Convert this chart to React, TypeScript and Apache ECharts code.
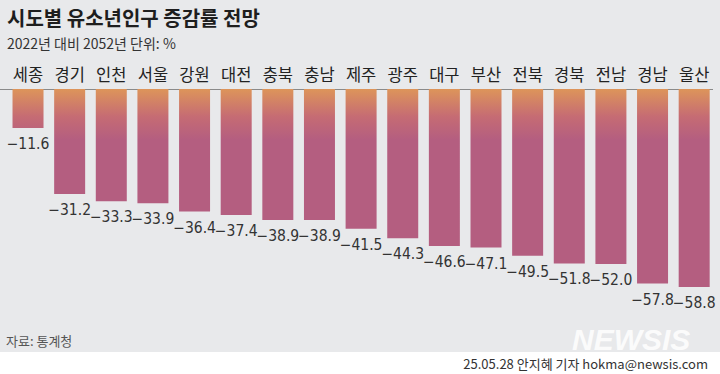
import React, { useEffect, useRef } from "react";
import * as echarts from "echarts";

const categories = ["세종", "경기", "인천", "서울", "강원", "대전", "충북", "충남", "제주", "광주", "대구", "부산", "전북", "경북", "전남", "경남", "울산"];
const values = [-11.6, -31.2, -33.3, -33.9, -36.4, -37.4, -38.9, -38.9, -41.5, -44.3, -46.6, -47.1, -49.5, -51.8, -52.0, -57.8, -58.8];

const title = "시도별 유소년인구 증감률 전망";
const subtitle = "2022년 대비 2052년 단위: %";
const source = "자료: 통계청";
const credit = "25.05.28 안지혜 기자 hokma@newsis.com";

const KR = '"Noto Sans CJK KR", "Noto Sans", sans-serif';

export default function App() {
  const ref = useRef<HTMLDivElement>(null);
  useEffect(() => {
    document.body.style.margin = "0";
    const chart = echarts.init(ref.current!, null, { renderer: "svg" });
    const grad = new echarts.graphic.LinearGradient(0, 89, 0, 140, [
      { offset: 0, color: "#dd955a" },
      { offset: 0.55, color: "#c56b74" },
      { offset: 1, color: "#b45e80" },
    ], true);
    chart.setOption({
      animation: false,
      backgroundColor: "#ffffff",
      graphic: [
        { type: "rect", z: -10, shape: { x: 0, y: 0, width: 720, height: 352 }, style: { fill: "#e8e9eb" } },
        { type: "text", x: 7, y: 7, style: { text: title, font: `bold 20px ${KR}`, fill: "#1e1e1e" } },
        { type: "text", x: 7, y: 36, style: { text: subtitle, font: `14px ${KR}`, fill: "#333333" } },
        { type: "line", z: 1, shape: { x1: 0, y1: 89.5, x2: 713, y2: 89.5 }, style: { stroke: "#8a8a8a", lineWidth: 1 } },
        { type: "text", x: 572, y: 324, style: { text: "NEWSIS", font: `italic 900 30px "Liberation Sans", sans-serif`, fill: "rgba(255,255,255,0.85)" } },
        { type: "text", x: 6, y: 334, style: { text: source, font: `13px ${KR}`, fill: "#555555" } },
        { type: "text", x: 708, y: 357, style: { text: credit, font: `13px ${KR}`, fill: "#333333", align: "right" } },
      ],
      grid: { left: 7.2, right: 5, top: 89, height: 235.7, containLabel: false },
      xAxis: {
        type: "category",
        data: categories,
        position: "top",
        axisLine: { show: false },
        axisTick: { show: false },
        axisLabel: { margin: 7, fontSize: 16.5, color: "#222222", fontFamily: '"Noto Sans CJK KR", sans-serif' },
      },
      yAxis: {
        type: "value",
        min: -70,
        max: 0,
        show: false,
        splitLine: { show: false },
      },
      series: [
        {
          type: "bar",
          data: values,
          barWidth: 31,
          itemStyle: { color: grad },
          label: {
            show: true,
            position: "bottom",
            distance: 8,
            formatter: (p: any) => "−" + Math.abs(p.value).toFixed(1),
            fontSize: 15.5,
            color: "#333333",
            fontFamily: '"DejaVu Sans Condensed", "Liberation Sans Narrow", sans-serif',
          },
        },
      ],
    });
    return () => chart.dispose();
  }, []);
  return <div ref={ref} style={{ position: "fixed", left: 0, top: 0, width: 720, height: 374 }} />;
}
